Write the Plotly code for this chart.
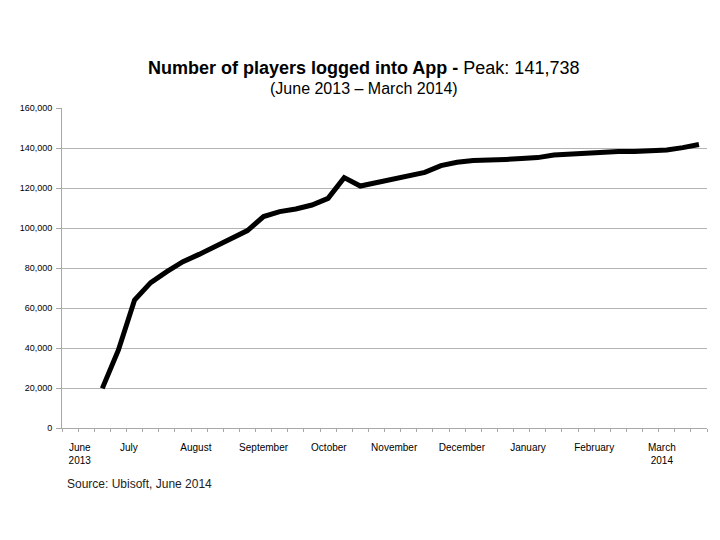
import plotly.graph_objects as go

# Weekly data index (week slots on the x axis) and players logged in
weeks = list(range(2, 40))
players = [19800, 39000, 64000, 72700, 78200, 83200, 86800, 90700, 94300, 98700,
           105700, 108200, 109500, 111500, 114800, 125200, 121000, 122700, 124700, 126200,
           127800, 131200, 132900, 133800, 133800, 134300, 134700, 135200, 136500, 137000,
           137300, 137800, 138200, 138200, 138500, 139000, 140200, 141738]

month_labels = ["June<br>2013", "July", "August", "September", "October", "November",
                "December", "January", "February", "March<br>2014"]
month_pos = [0.6, 3.65, 7.8, 12.0, 16.05, 20.1, 24.3, 28.4, 32.5, 36.7]

y_ticks = [0, 20000, 40000, 60000, 80000, 100000, 120000, 140000, 160000]

FONT = "Liberation Sans, Arial, sans-serif"

fig = go.Figure()
fig.add_trace(go.Scatter(
    x=weeks, y=players, mode="lines",
    line=dict(color="black", width=5, shape="linear"),
    hoverinfo="skip", showlegend=False,
))

fig.update_layout(
    width=720, height=540,
    margin=dict(l=51, r=21, t=100, b=120),
    paper_bgcolor="white", plot_bgcolor="white",
    showlegend=False,
    xaxis=dict(
        range=[-0.5, 39.5],
        tickmode="array", tickvals=month_pos, ticktext=month_labels,
        ticks="", showgrid=False, zeroline=False,
        showline=True, linecolor="#a8a8a8", linewidth=1,
        tickfont=dict(family=FONT, size=10, color="#000"),
        ticklabelstandoff=10,
        minor=dict(tickmode="linear", tick0=-0.5, dtick=1, ticks="outside",
                   ticklen=3, tickcolor="#a8a8a8", tickwidth=1, showgrid=False),
        fixedrange=True,
    ),
    yaxis=dict(
        range=[0, 160000],
        tickmode="array", tickvals=y_ticks,
        tickformat=",d",
        ticks="outside", ticklen=5, tickcolor="#a8a8a8",
        showgrid=True, gridcolor="#b4b4b4", gridwidth=1,
        zeroline=False,
        showline=True, linecolor="#a8a8a8", linewidth=1,
        tickfont=dict(family=FONT, size=9, color="#000"),
        ticklabelstandoff=2,
        fixedrange=True,
    ),
    annotations=[
        dict(text="<b>Number of players logged into App - </b>Peak: 141,738",
             xref="paper", yref="paper", x=0.4676, y=1.125,
             xanchor="center", yanchor="middle", showarrow=False,
             font=dict(family=FONT, size=18, color="black")),
        dict(text="(June 2013 – March 2014)",
             xref="paper", yref="paper", x=0.4676, y=1.0625,
             xanchor="center", yanchor="middle", showarrow=False,
             font=dict(family=FONT, size=16, color="black")),
        dict(text="Source: Ubisoft, June 2014",
             xref="paper", yref="paper", x=0.004, y=-0.175,
             xanchor="left", yanchor="middle", showarrow=False,
             font=dict(family=FONT, size=12, color="#222")),
    ],
)

fig.write_html("out.html")
